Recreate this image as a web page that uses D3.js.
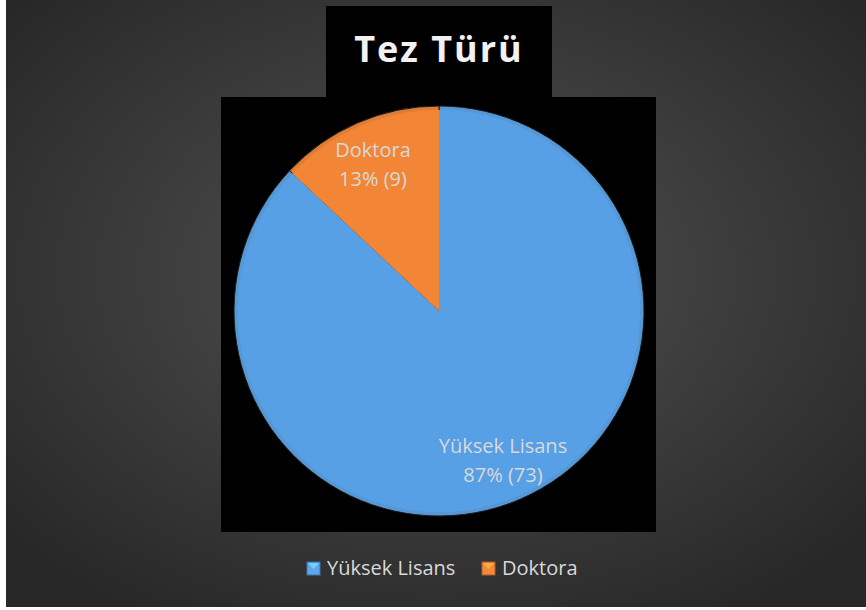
<!DOCTYPE html>
<html>
<head>
<meta charset="utf-8">
<script src="https://cdn.jsdelivr.net/npm/d3@7"></script>
<style>
  body { margin: 0; background: #fff; }
  svg { display: block; }
</style>
</head>
<body>
<div id="chart"></div>
<script>
// data
var categories = ["Yüksek Lisans", "Doktora"];
var percents = [87, 13];
var counts = [73, 9];
var colors = ["#5ea6ea", "#f5893a"];

var svgWidth = 866;
var svgHeight = 610;

var svg = d3.select("#chart")
  .append("svg")
  .attr("width", svgWidth)
  .attr("height", svgHeight);

var defs = svg.append("defs");

// background gradient
var bg = defs.append("radialGradient")
  .attr("id", "bg")
  .attr("cx", "50%").attr("cy", "45%").attr("r", "65%");
bg.append("stop").attr("offset", "0%").attr("stop-color", "#525252");
bg.append("stop").attr("offset", "100%").attr("stop-color", "#282828");

var blueGrad = defs.append("radialGradient")
  .attr("id", "blueGrad")
  .attr("gradientUnits", "userSpaceOnUse")
  .attr("cx", 520).attr("cy", 200).attr("r", 320);
blueGrad.append("stop").attr("offset", "0%").attr("stop-color", "#74b6f2");
blueGrad.append("stop").attr("offset", "100%").attr("stop-color", "#58a0e6");

var orangeGrad = defs.append("radialGradient")
  .attr("id", "orangeGrad")
  .attr("gradientUnits", "userSpaceOnUse")
  .attr("cx", 400).attr("cy", 170).attr("r", 160);
orangeGrad.append("stop").attr("offset", "0%").attr("stop-color", "#f9923f");
orangeGrad.append("stop").attr("offset", "100%").attr("stop-color", "#f28636");

var fills = ["url(#blueGrad)", "url(#orangeGrad)"];

svg.append("rect")
  .attr("x", 6).attr("y", 0)
  .attr("width", svgWidth - 6).attr("height", 607)
  .attr("fill", "url(#bg)");

// title box + plot box
svg.append("rect")
  .attr("x", 326).attr("y", 6)
  .attr("width", 226).attr("height", 92)
  .attr("fill", "#000");

svg.append("rect")
  .attr("x", 221).attr("y", 97)
  .attr("width", 435).attr("height", 435)
  .attr("fill", "#000");

svg.append("text")
  .attr("x", 439)
  .attr("y", 62)
  .attr("text-anchor", "middle")
  .attr("fill", "#f2f2f2")
  .style("font-family", "'Open Sans', 'Noto Sans', sans-serif")
  .style("font-size", "36px")
  .style("font-weight", "bold")
  .style("letter-spacing", "2px")
  .text("Tez Türü");

var cx = 439, cy = 311, radius = 205;

var pie = d3.pie().sort(null).value(d => d.p);
var data = categories.map((c, i) => ({ name: c, p: percents[i], n: counts[i], i: i }));
var arcs = pie(data);

var arc = d3.arc().innerRadius(0).outerRadius(radius);
var innerArc = d3.arc().innerRadius(0).outerRadius(radius - 4);

var pieGroup = svg.append("g")
  .attr("transform", `translate(${cx}, ${cy})`);

// bevel: darker rim then slice
pieGroup.selectAll("path.base")
  .data(arcs)
  .enter()
  .append("path")
  .attr("class", "base")
  .attr("d", arc)
  .attr("fill", (d, i) => d3.color(colors[i]).darker(0.25))
  .attr("stroke", "#1a1a1a")
  .attr("stroke-width", 1);

pieGroup.selectAll("path.slice")
  .data(arcs)
  .enter()
  .append("path")
  .attr("class", "slice")
  .attr("d", innerArc)
  .attr("fill", (d, i) => fills[i]);

// data labels
var labelPos = [[503, 446], [373, 150]];
var labels = svg.append("g")
  .selectAll("text")
  .data(arcs)
  .enter()
  .append("text")
  .attr("x", (d, i) => labelPos[i][0])
  .attr("y", (d, i) => labelPos[i][1])
  .attr("text-anchor", "middle")
  .attr("fill", "#d9d9d9")
  .style("font-family", "'Open Sans', 'Noto Sans', sans-serif")
  .style("font-size", "20px");

labels.append("tspan")
  .attr("x", (d, i) => labelPos[i][0])
  .attr("dy", "0.35em")
  .text(d => d.data.name);
labels.append("tspan")
  .attr("x", (d, i) => labelPos[i][0])
  .attr("dy", "1.45em")
  .text(d => `${d.data.p}% (${d.data.n})`);

// legend
var legendX = [307, 482];
var legend = svg.append("g")
  .selectAll("g")
  .data(data)
  .enter()
  .append("g")
  .attr("transform", (d, i) => `translate(${legendX[i]}, 562)`);

legend.append("rect")
  .attr("width", 13).attr("height", 13)
  .attr("fill", (d, i) => colors[i])
  .attr("stroke", (d, i) => d3.color(colors[i]).darker(1))
  .attr("stroke-width", 1);

legend.append("path")
  .attr("d", "M1,1 L12,1 L6.5,7 Z")
  .attr("fill", (d, i) => d3.color(colors[i]).brighter(0.6));

legend.append("text")
  .attr("x", 20)
  .attr("y", 13)
  .attr("fill", "#d9d9d9")
  .style("font-family", "'Open Sans', 'Noto Sans', sans-serif")
  .style("font-size", "20px")
  .text(d => d.name);
</script>
</body>
</html>
